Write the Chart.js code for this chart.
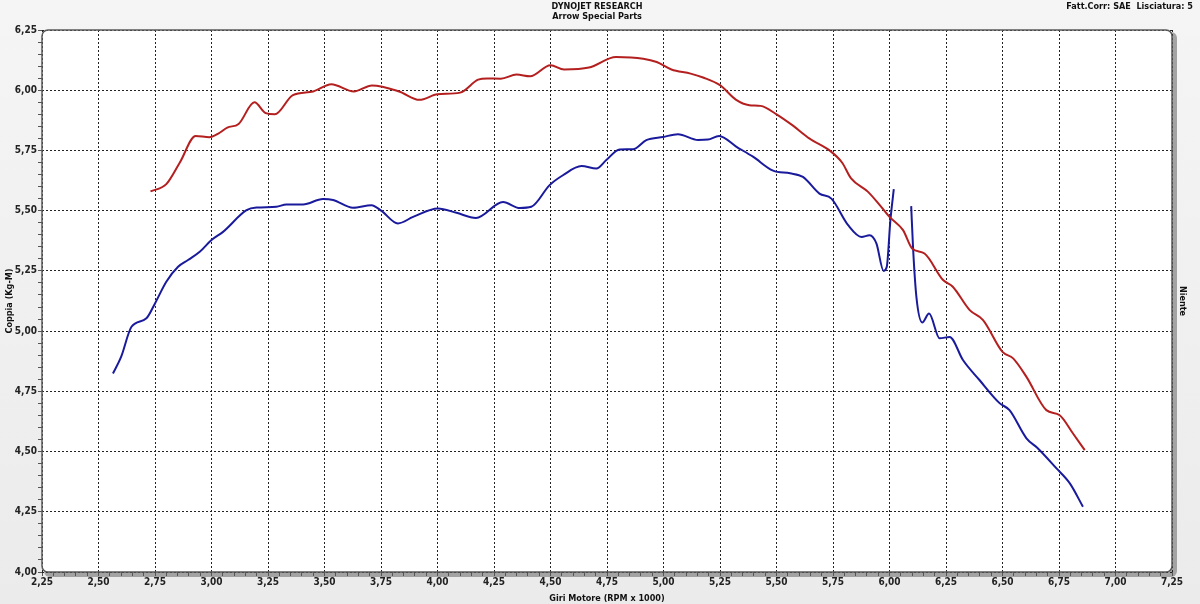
<!DOCTYPE html>
<html>
<head>
<meta charset="utf-8">
<title>Dynojet - Coppia</title>
<script src="https://cdn.jsdelivr.net/npm/chart.js@4.4.1/dist/chart.umd.min.js"></script>
<style>
    html, body { margin: 0; padding: 0; background: #f0f0f0; }
    #wrap { width: 1200px; height: 604px; background: linear-gradient(#f5f5f5, #ebebeb); }
</style>
</head>
<body>
<div id="wrap"><canvas id="c" width="1200" height="604"></canvas></div>
<script>
// curva rossa
const rpmRosso = [2.73, 2.80, 2.86, 2.93, 2.99, 3.03, 3.07, 3.12, 3.19, 3.24, 3.28, 3.36, 3.45, 3.53, 3.63, 3.71, 3.83, 3.92, 4.00, 4.10,
    4.18, 4.22, 4.28, 4.35, 4.41, 4.50, 4.56, 4.67, 4.79, 4.91, 4.97, 5.035, 5.12, 5.175, 5.25, 5.32, 5.38, 5.43, 5.50, 5.57,
    5.645, 5.74, 5.79, 5.83, 5.905, 5.957, 6.00, 6.06, 6.10, 6.155, 6.237, 6.28, 6.355, 6.414, 6.50, 6.547, 6.606, 6.694, 6.753, 6.812, 6.864]
const coppiaRosso = [5.58, 5.61, 5.70, 5.81, 5.805, 5.82, 5.845, 5.86, 5.95, 5.905, 5.90, 5.98, 5.995, 6.025, 5.995, 6.02, 5.995, 5.96, 5.983, 5.99,
    6.044, 6.049, 6.048, 6.065, 6.058, 6.104, 6.086, 6.094, 6.138, 6.131, 6.117, 6.086, 6.069, 6.053, 6.021, 5.961, 5.938, 5.935, 5.90, 5.855,
    5.80, 5.746, 5.70, 5.634, 5.578, 5.523, 5.474, 5.419, 5.343, 5.322, 5.212, 5.184, 5.087, 5.046, 4.914, 4.887, 4.81, 4.672, 4.651, 4.575, 4.506]

// curva blu (null = interruzione)
const rpmBlu = [2.564, 2.60, 2.646, 2.712, 2.75, 2.80, 2.852, 2.896, 2.948, 3.00, 3.051, 3.155, 3.199, 3.287, 3.331, 3.405, 3.493, 3.538, 3.626, 3.708,
    3.752, 3.825, 3.892, 4.002, 4.084, 4.17, 4.29, 4.364, 4.415, 4.496, 4.555, 4.637, 4.703, 4.747, 4.806, 4.865, 4.924, 4.998, 5.064, 5.153,
    5.197, 5.246, 5.323, 5.396, 5.485, 5.56, 5.617, 5.69, 5.743, 5.817, 5.876, 5.912, 5.942, 5.974, 5.988, 6.004, 6.019, 6.05,
    6.096, 6.104, 6.119, 6.145, 6.175, 6.222, 6.266, 6.325, 6.398, 6.487, 6.531, 6.606, 6.657, 6.739, 6.798, 6.856]
const coppiaBlu = [4.824, 4.893, 5.018, 5.053, 5.115, 5.205, 5.267, 5.295, 5.329, 5.378, 5.412, 5.502, 5.513, 5.516, 5.526, 5.526, 5.548, 5.544, 5.512, 5.523,
    5.499, 5.447, 5.474, 5.509, 5.491, 5.470, 5.536, 5.511, 5.516, 5.606, 5.647, 5.685, 5.675, 5.710, 5.754, 5.755, 5.793, 5.806, 5.817, 5.793,
    5.795, 5.810, 5.765, 5.724, 5.666, 5.655, 5.640, 5.571, 5.550, 5.440, 5.391, 5.398, 5.364, 5.250, 5.267, 5.461, 5.589, null,
    5.519, 5.350, 5.142, 5.036, 5.073, 4.970, 4.976, 4.880, 4.797, 4.701, 4.672, 4.555, 4.513, 4.430, 4.368, 4.271]

// assi
const xMin = 2.25, xMax = 7.25
const yMin = 4.00, yMax = 6.25
const passoMinore = 0.05

const FONT = "'DejaVu Sans Condensed', 'DejaVu Sans', sans-serif"

function isMajor(v) {
    return Math.abs(Math.round(v * 4) - v * 4) < 1e-6
}
function etichetta(v) {
    return isMajor(v) ? v.toFixed(2).replace('.', ',') : ''
}
function coloreGriglia(ctx) {
    return ctx.tick && isMajor(ctx.tick.value) ? '#222' : 'rgba(0,0,0,0)'
}

// cornice arrotondata + testi in alto
const cornice = {
    id: 'cornice',
    beforeDraw(chart) {
        const { ctx, chartArea: a } = chart
        ctx.save()
        ctx.fillStyle = '#a3a3a3'
        ctx.beginPath()
        ctx.roundRect(a.left + 2, a.top + 2, a.right - a.left + 3, a.bottom - a.top + 3, 6)
        ctx.fill()
        ctx.fillStyle = '#ffffff'
        ctx.beginPath()
        ctx.roundRect(a.left, a.top, a.right - a.left, a.bottom - a.top, 6)
        ctx.fill()
        ctx.restore()
    },
    afterDraw(chart) {
        const { ctx, chartArea: a } = chart
        ctx.save()
        ctx.strokeStyle = '#5a5a5a'
        ctx.lineWidth = 1.5
        ctx.beginPath()
        ctx.roundRect(a.left, a.top, a.right - a.left, a.bottom - a.top, 6)
        ctx.stroke()

        ctx.fillStyle = '#111'
        ctx.font = 'bold 9px ' + FONT
        ctx.textBaseline = 'top'
        ctx.textAlign = 'center'
        ctx.fillText('DYNOJET RESEARCH', 597, 2)
        ctx.fillText('Arrow Special Parts', 597, 12)
        ctx.textAlign = 'right'
        ctx.fillText('Fatt.Corr: SAE  Lisciatura: 5', 1193, 2)
        ctx.restore()
    }
}

const config = {
    type: 'line',
    data: {
        datasets: [
            {
                label: 'rosso',
                data: rpmRosso.map((x, i) => ({ x: x, y: coppiaRosso[i] })),
                borderColor: '#b3201f',
                borderWidth: 2,
                pointRadius: 0,
                cubicInterpolationMode: 'monotone'
            },
            {
                label: 'blu',
                data: rpmBlu.map((x, i) => ({ x: x, y: coppiaBlu[i] })),
                borderColor: '#1a1a9c',
                borderWidth: 2,
                pointRadius: 0,
                spanGaps: false,
                cubicInterpolationMode: 'monotone'
            }
        ]
    },
    options: {
        responsive: false,
        animation: false,
        devicePixelRatio: 1,
        layout: { padding: { top: 30, left: 0, right: 0, bottom: 0 } },
        plugins: {
            legend: { display: false },
            tooltip: { enabled: false }
        },
        scales: {
            x: {
                type: 'linear',
                min: xMin,
                max: xMax,
                afterFit: s => { s.height = 32 },
                ticks: {
                    stepSize: passoMinore,
                    autoSkip: false,
                    maxRotation: 0,
                    padding: 0,
                    color: '#222',
                    font: { family: FONT, size: 10, weight: 'bold' },
                    callback: v => etichetta(v)
                },
                grid: {
                    color: coloreGriglia,
                    tickColor: '#555',
                    tickLength: 4,
                    lineWidth: 1
                },
                border: { display: false, dash: [2, 2] },
                title: {
                    display: true,
                    text: 'Giri Motore (RPM x 1000)',
                    color: '#111',
                    padding: { top: 3, bottom: 0 },
                    font: { family: FONT, size: 9, weight: 'bold' }
                }
            },
            y: {
                min: yMin,
                max: yMax,
                afterFit: s => { s.width = 42 },
                ticks: {
                    stepSize: passoMinore,
                    autoSkip: false,
                    padding: 1,
                    color: '#222',
                    font: { family: FONT, size: 10, weight: 'bold' },
                    callback: v => etichetta(v)
                },
                grid: {
                    color: coloreGriglia,
                    tickColor: '#555',
                    tickLength: 4,
                    lineWidth: 1
                },
                border: { display: false, dash: [2, 2] },
                title: {
                    display: true,
                    text: 'Coppia (Kg-M)',
                    color: '#111',
                    padding: { top: 4, bottom: 0 },
                    font: { family: FONT, size: 9, weight: 'bold' }
                }
            },
            y2: {
                position: 'right',
                min: yMin,
                max: yMax,
                afterFit: s => { s.width = 28 },
                ticks: { display: false },
                grid: { display: false },
                border: { display: false },
                title: {
                    display: true,
                    text: 'Niente',
                    color: '#111',
                    padding: { top: 12, bottom: 0 },
                    font: { family: FONT, size: 9, weight: 'bold' }
                }
            }
        }
    },
    plugins: [cornice]
}

new Chart(document.getElementById('c'), config)
</script>
</body>
</html>
